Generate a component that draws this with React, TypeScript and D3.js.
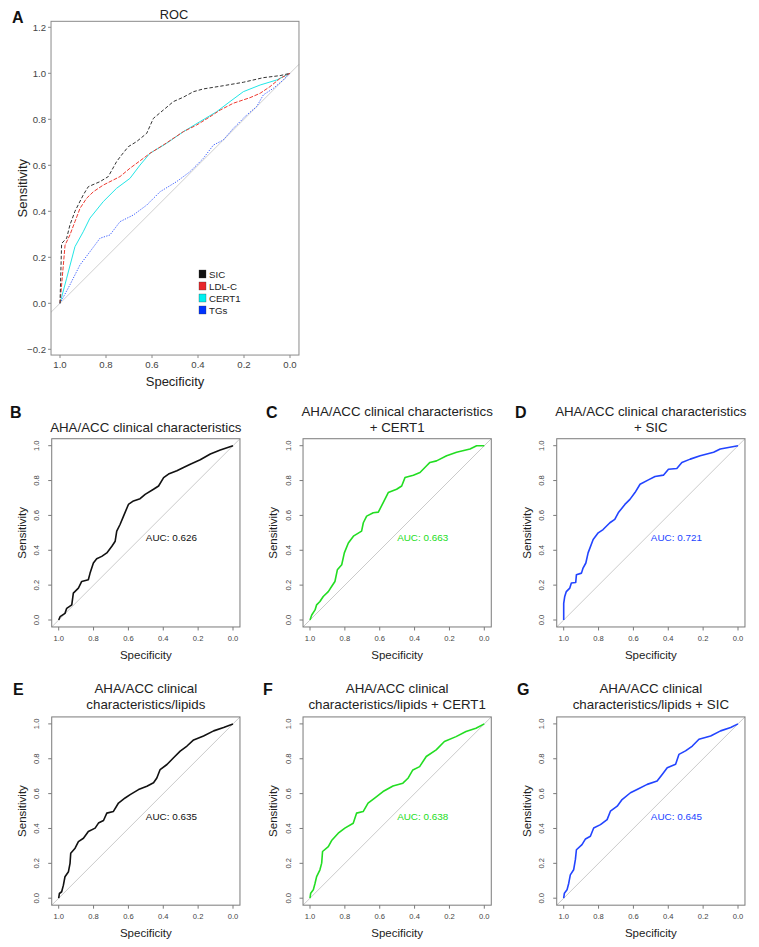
import React, { useEffect, useRef } from 'react';
import * as d3 from 'd3';

const FONT = "'Liberation Sans', Arial, Helvetica, sans-serif";

// ---------- Panel A data: [specificity, sensitivity] ----------
const A_SIC: [number, number][] = [
  [1, 0], [0.993, 0.26], [0.971, 0.283], [0.957, 0.34], [0.935, 0.4], [0.899, 0.471], [0.877, 0.507],
  [0.826, 0.529], [0.79, 0.551], [0.754, 0.616], [0.732, 0.645], [0.703, 0.681], [0.667, 0.703],
  [0.623, 0.739], [0.594, 0.804], [0.551, 0.84], [0.507, 0.877], [0.464, 0.896], [0.42, 0.92],
  [0.377, 0.932], [0.29, 0.946], [0.203, 0.961], [0.116, 0.981], [0.043, 0.99], [0, 1],
];
const A_LDL: [number, number][] = [
  [1, 0], [0.988, 0.137], [0.978, 0.253], [0.957, 0.297], [0.935, 0.355], [0.913, 0.413], [0.884, 0.457],
  [0.855, 0.485], [0.812, 0.514], [0.739, 0.551], [0.696, 0.587], [0.638, 0.63], [0.609, 0.652],
  [0.551, 0.688], [0.464, 0.746], [0.406, 0.775], [0.348, 0.811], [0.304, 0.84], [0.246, 0.87],
  [0.174, 0.894], [0.13, 0.913], [0.087, 0.942], [0.043, 0.978], [0, 1],
];
const A_CERT1: [number, number][] = [
  [1, 0], [0.971, 0.109], [0.935, 0.246], [0.899, 0.311], [0.87, 0.37], [0.812, 0.442], [0.754, 0.5],
  [0.696, 0.543], [0.652, 0.601], [0.609, 0.652], [0.536, 0.696], [0.464, 0.746], [0.391, 0.79],
  [0.319, 0.833], [0.261, 0.877], [0.203, 0.92], [0.13, 0.949], [0.058, 0.971], [0, 1],
];
const A_TG: [number, number][] = [
  [1, 0], [0.957, 0.08], [0.913, 0.167], [0.87, 0.224], [0.826, 0.283], [0.783, 0.297], [0.739, 0.355],
  [0.681, 0.384], [0.623, 0.427], [0.565, 0.485], [0.493, 0.529], [0.435, 0.572], [0.377, 0.63],
  [0.333, 0.688], [0.29, 0.71], [0.246, 0.761], [0.188, 0.819], [0.145, 0.855], [0.116, 0.906],
  [0.072, 0.935], [0.029, 0.971], [0, 1],
];
const A_LEGEND = ['SIC', 'LDL-C', 'CERT1', 'TGs'];
const A_Y_TICKS = [-0.2, 0, 0.2, 0.4, 0.6, 0.8, 1.0, 1.2];
const TICKS01 = [0, 0.2, 0.4, 0.6, 0.8, 1.0];

// ---------- Panels B–G ----------
const B_CURVE: [number, number][] = [
  [1, 0], [0.992, 0.019], [0.964, 0.038], [0.954, 0.067], [0.925, 0.087], [0.916, 0.154], [0.887, 0.183],
  [0.868, 0.221], [0.83, 0.231], [0.82, 0.269], [0.801, 0.327], [0.782, 0.352], [0.753, 0.365],
  [0.724, 0.385], [0.695, 0.423], [0.676, 0.452], [0.667, 0.51], [0.648, 0.548], [0.628, 0.596],
  [0.6, 0.663], [0.571, 0.683], [0.533, 0.696], [0.504, 0.721], [0.456, 0.75], [0.427, 0.769],
  [0.398, 0.817], [0.37, 0.837], [0.322, 0.856], [0.284, 0.875], [0.245, 0.894], [0.188, 0.919],
  [0.13, 0.952], [0.073, 0.975], [0, 1],
];
const C_CURVE: [number, number][] = [
  [1, 0], [0.99, 0.029], [0.971, 0.058], [0.962, 0.087], [0.943, 0.106], [0.924, 0.135], [0.895, 0.163],
  [0.876, 0.192], [0.857, 0.221], [0.843, 0.288], [0.818, 0.317], [0.803, 0.385], [0.78, 0.442],
  [0.751, 0.481], [0.704, 0.51], [0.694, 0.558], [0.675, 0.596], [0.637, 0.615], [0.608, 0.619],
  [0.58, 0.673], [0.551, 0.731], [0.503, 0.75], [0.474, 0.769], [0.455, 0.817], [0.407, 0.831],
  [0.369, 0.846], [0.331, 0.885], [0.312, 0.904], [0.274, 0.913], [0.216, 0.942], [0.159, 0.962],
  [0.082, 0.981], [0.044, 1.0], [0, 1],
];
const D_CURVE: [number, number][] = [
  [1, 0], [1, 0.096], [0.994, 0.135], [0.985, 0.163], [0.965, 0.183], [0.956, 0.212], [0.931, 0.215],
  [0.927, 0.26], [0.898, 0.269], [0.889, 0.298], [0.873, 0.327], [0.86, 0.385], [0.831, 0.462],
  [0.802, 0.5], [0.774, 0.519], [0.735, 0.558], [0.707, 0.577], [0.687, 0.615], [0.649, 0.663],
  [0.62, 0.692], [0.591, 0.731], [0.562, 0.779], [0.514, 0.804], [0.476, 0.823], [0.428, 0.831],
  [0.399, 0.865], [0.351, 0.869], [0.322, 0.904], [0.274, 0.923], [0.217, 0.942], [0.14, 0.962],
  [0.102, 0.981], [0, 1],
];
const E_CURVE: [number, number][] = [
  [1, 0], [0.996, 0.027], [0.983, 0.037], [0.973, 0.075], [0.964, 0.123], [0.944, 0.152], [0.935, 0.2],
  [0.931, 0.258], [0.906, 0.287], [0.887, 0.325], [0.858, 0.344], [0.83, 0.383], [0.791, 0.402],
  [0.772, 0.431], [0.743, 0.446], [0.724, 0.488], [0.686, 0.498], [0.657, 0.546], [0.619, 0.575],
  [0.59, 0.594], [0.542, 0.623], [0.494, 0.642], [0.456, 0.662], [0.437, 0.69], [0.418, 0.738],
  [0.379, 0.767], [0.341, 0.806], [0.303, 0.844], [0.264, 0.873], [0.226, 0.908], [0.169, 0.931],
  [0.111, 0.96], [0.054, 0.979], [0, 1],
];
const F_CURVE: [number, number][] = [
  [1, 0], [0.996, 0.029], [0.981, 0.048], [0.971, 0.086], [0.962, 0.124], [0.943, 0.163], [0.933, 0.201],
  [0.928, 0.268], [0.895, 0.296], [0.876, 0.331], [0.838, 0.373], [0.8, 0.402], [0.752, 0.43],
  [0.733, 0.488], [0.695, 0.497], [0.667, 0.545], [0.629, 0.574], [0.581, 0.612], [0.524, 0.644],
  [0.467, 0.66], [0.438, 0.688], [0.41, 0.736], [0.371, 0.755], [0.333, 0.813], [0.276, 0.851],
  [0.229, 0.899], [0.162, 0.927], [0.105, 0.956], [0.048, 0.975], [0, 1],
];
const G_CURVE: [number, number][] = [
  [1, 0], [0.996, 0.029], [0.981, 0.048], [0.971, 0.086], [0.962, 0.134], [0.943, 0.163], [0.933, 0.221],
  [0.927, 0.278], [0.895, 0.307], [0.875, 0.34], [0.847, 0.355], [0.828, 0.403], [0.789, 0.422],
  [0.751, 0.451], [0.732, 0.499], [0.693, 0.528], [0.665, 0.566], [0.617, 0.605], [0.579, 0.624],
  [0.521, 0.653], [0.464, 0.672], [0.435, 0.71], [0.406, 0.749], [0.358, 0.768], [0.339, 0.825],
  [0.301, 0.845], [0.262, 0.873], [0.224, 0.912], [0.157, 0.931], [0.1, 0.96], [0.042, 0.979], [0, 1],
];
const PANEL_LETTERS = ['B', 'C', 'D', 'E', 'F', 'G'];
const PANEL_TITLES = [
  ['AHA/ACC clinical characteristics'],
  ['AHA/ACC clinical characteristics', '+ CERT1'],
  ['AHA/ACC clinical characteristics', '+ SIC'],
  ['AHA/ACC clinical', 'characteristics/lipids'],
  ['AHA/ACC clinical', 'characteristics/lipids + CERT1'],
  ['AHA/ACC clinical', 'characteristics/lipids + SIC'],
];
const PANEL_AUC = [0.626, 0.663, 0.721, 0.635, 0.638, 0.645];
const PANEL_CURVES = [B_CURVE, C_CURVE, D_CURVE, E_CURVE, F_CURVE, G_CURVE];

const BLACK = '#111111';
const GREEN = '#22dd22';
const BLUE = '#2244ff';
const PANEL_COLORS = [BLACK, GREEN, BLUE, BLACK, GREEN, BLUE];

type Sel = d3.Selection<SVGSVGElement, unknown, null, undefined>;

const fmt = (v: number) => (v < 0 ? '\u2212' : '') + Math.abs(v).toFixed(1);

function drawA(svg: Sel) {
  const g = svg.append('g');
  const x = d3.scaleLinear().domain([1, 0]).range([60, 290]);
  const y = d3.scaleLinear().domain([0, 1]).range([303.3, 73.3]);
  const xd: [number, number] = [1.039, -0.039];
  const yd: [number, number] = [-0.225, 1.226];
  const left = x(xd[0]), right = x(xd[1]), top = y(yd[1]), bottom = y(yd[0]);

  // diagonal
  g.append('line')
    .attr('x1', x(xd[0])).attr('y1', y(1 - xd[0]))
    .attr('x2', x(xd[1])).attr('y2', y(1 - xd[1]))
    .attr('stroke', '#cfcfcf').attr('stroke-width', 1);

  const line = d3.line<[number, number]>().x(d => x(d[0])).y(d => y(d[1]));
  const series: { data: [number, number][]; color: string; dash: string | null; w: number }[] = [
    { data: A_TG, color: '#4466ff', dash: '1.3,1.3', w: 1 },
    { data: A_CERT1, color: '#22e6e6', dash: null, w: 1 },
    { data: A_LDL, color: '#ee3a30', dash: '4,1.5', w: 1 },
    { data: A_SIC, color: '#333333', dash: '3.5,2', w: 1 },
  ];
  series.forEach(s => {
    g.append('path').attr('d', line(s.data) as string).attr('fill', 'none')
      .attr('stroke', s.color).attr('stroke-width', s.w)
      .attr('stroke-dasharray', s.dash ?? null);
  });

  // box
  g.append('rect').attr('x', left).attr('y', top).attr('width', right - left).attr('height', bottom - top)
    .attr('fill', 'none').attr('stroke', '#8a8a8a').attr('stroke-width', 1);

  // y ticks
  A_Y_TICKS.forEach(t => {
    g.append('line').attr('x1', left - 3).attr('x2', left).attr('y1', y(t)).attr('y2', y(t))
      .attr('stroke', '#8a8a8a');
    g.append('text').attr('x', left - 5).attr('y', y(t)).attr('text-anchor', 'end')
      .attr('dominant-baseline', 'central').attr('font-size', 9.6).attr('fill', '#444')
      .attr('font-family', FONT).text(fmt(t));
  });
  TICKS01.forEach(t => {
    g.append('line').attr('x1', x(t)).attr('x2', x(t)).attr('y1', bottom).attr('y2', bottom + 3)
      .attr('stroke', '#8a8a8a');
    g.append('text').attr('x', x(t)).attr('y', bottom + 9).attr('text-anchor', 'middle')
      .attr('dominant-baseline', 'central').attr('font-size', 9.6).attr('fill', '#444')
      .attr('font-family', FONT).text(fmt(t));
  });

  g.append('text').attr('x', (left + right) / 2).attr('y', 381).attr('text-anchor', 'middle')
    .attr('dominant-baseline', 'central').attr('font-size', 13).attr('fill', '#222')
    .attr('font-family', FONT).text('Specificity');
  g.append('text').attr('transform', `translate(22,${(top + bottom) / 2}) rotate(-90)`)
    .attr('text-anchor', 'middle').attr('dominant-baseline', 'central').attr('font-size', 13)
    .attr('fill', '#222').attr('font-family', FONT).text('Sensitivity');
  g.append('text').attr('x', 174).attr('y', 14).attr('text-anchor', 'middle')
    .attr('dominant-baseline', 'central').attr('font-size', 12.8).attr('fill', '#222')
    .attr('font-family', FONT).text('ROC');
  g.append('text').attr('x', 12).attr('y', 17).attr('dominant-baseline', 'central')
    .attr('font-size', 16).attr('font-weight', 'bold').attr('fill', '#111')
    .attr('font-family', FONT).text('A');

  // legend
  const legColors = ['#111111', '#e8262a', '#00f0f0', '#0033ff'];
  A_LEGEND.forEach((name, i) => {
    const cy = 274 + i * 12;
    g.append('rect').attr('x', 199).attr('y', cy - 4).attr('width', 7).attr('height', 8)
      .attr('fill', legColors[i]).attr('stroke', '#333').attr('stroke-width', 0.3);
    g.append('text').attr('x', 209).attr('y', cy).attr('dominant-baseline', 'central')
      .attr('font-size', 9.7).attr('fill', '#222').attr('font-family', FONT).text(name);
  });
}

function drawPanel(svg: Sel, i: number) {
  const col = i % 3;
  const row = Math.floor(i / 3);
  const U = 174.3;
  const x1 = [58.7, 310, 563.7][col];
  const y0 = [620, 898.2][row];
  const x = d3.scaleLinear().domain([1, 0]).range([x1, x1 + U]);
  const y = d3.scaleLinear().domain([0, 1]).range([y0, y0 - U]);
  const left = x(1.04), right = x(-0.04), top = y(1.04), bottom = y(-0.04);
  const g = svg.append('g');
  const color = PANEL_COLORS[i];

  g.append('line').attr('x1', left).attr('y1', bottom).attr('x2', right).attr('y2', top)
    .attr('stroke', '#c4c4c4').attr('stroke-width', 0.9);

  const line = d3.line<[number, number]>().x(d => x(d[0])).y(d => y(d[1]));
  g.append('path').attr('d', line(PANEL_CURVES[i]) as string).attr('fill', 'none')
    .attr('stroke', color).attr('stroke-width', 1.6).attr('stroke-linejoin', 'round');

  g.append('rect').attr('x', left).attr('y', top).attr('width', right - left).attr('height', bottom - top)
    .attr('fill', 'none').attr('stroke', '#7a7a7a').attr('stroke-width', 1);

  TICKS01.forEach(t => {
    g.append('line').attr('x1', left - 3.5).attr('x2', left).attr('y1', y(t)).attr('y2', y(t))
      .attr('stroke', '#7a7a7a');
    g.append('text').attr('transform', `translate(${left - 15},${y(t)}) rotate(-90)`)
      .attr('text-anchor', 'middle').attr('dominant-baseline', 'central')
      .attr('font-size', 7.6).attr('fill', '#444').attr('font-family', FONT).text(fmt(t));
    g.append('line').attr('x1', x(t)).attr('x2', x(t)).attr('y1', bottom).attr('y2', bottom + 3.5)
      .attr('stroke', '#7a7a7a');
    g.append('text').attr('x', x(t)).attr('y', bottom + 11.7).attr('text-anchor', 'middle')
      .attr('dominant-baseline', 'central').attr('font-size', 7.6).attr('fill', '#444')
      .attr('font-family', FONT).text(fmt(t));
  });

  g.append('text').attr('x', (left + right) / 2).attr('y', bottom + 28).attr('text-anchor', 'middle')
    .attr('dominant-baseline', 'central').attr('font-size', 11.5).attr('fill', '#222')
    .attr('font-family', FONT).text('Specificity');
  g.append('text').attr('transform', `translate(${left - 30},${(top + bottom) / 2}) rotate(-90)`)
    .attr('text-anchor', 'middle').attr('dominant-baseline', 'central').attr('font-size', 11.5)
    .attr('fill', '#222').attr('font-family', FONT).text('Sensitivity');

  g.append('text').attr('x', x(0.5)).attr('y', y(0.5) + 5).attr('dominant-baseline', 'central')
    .attr('font-size', 9.9).attr('fill', color).attr('font-family', FONT)
    .text(`AUC: ${PANEL_AUC[i].toFixed(3)}`);

  const lines = PANEL_TITLES[i];
  const lineYs = row === 0 ? (lines.length === 1 ? [427.7] : [411.7, 427.3]) : [688, 704];
  lines.forEach((t, k) => {
    g.append('text').attr('x', (left + right) / 2).attr('y', lineYs[k]).attr('text-anchor', 'middle')
      .attr('dominant-baseline', 'central').attr('font-size', 13.3).attr('fill', '#222')
      .attr('font-family', FONT).text(t);
  });

  const letterX = [[10, 266, 515], [13, 263, 517]][row][col];
  const letterY = [412, 689][row];
  g.append('text').attr('x', letterX).attr('y', letterY).attr('dominant-baseline', 'central')
    .attr('font-size', 16).attr('font-weight', 'bold').attr('fill', '#111')
    .attr('font-family', FONT).text(PANEL_LETTERS[i]);
}

export default function App() {
  const ref = useRef<SVGSVGElement>(null);
  useEffect(() => {
    if (!ref.current) return;
    const svg = d3.select(ref.current) as unknown as Sel;
    svg.selectAll('*').remove();
    drawA(svg);
    PANEL_CURVES.forEach((_, i) => drawPanel(svg, i));
  }, []);
  return (
    <svg
      ref={ref}
      width={759}
      height={947}
      style={{ position: 'absolute', left: 0, top: 0, background: '#fff' }}
    />
  );
}
